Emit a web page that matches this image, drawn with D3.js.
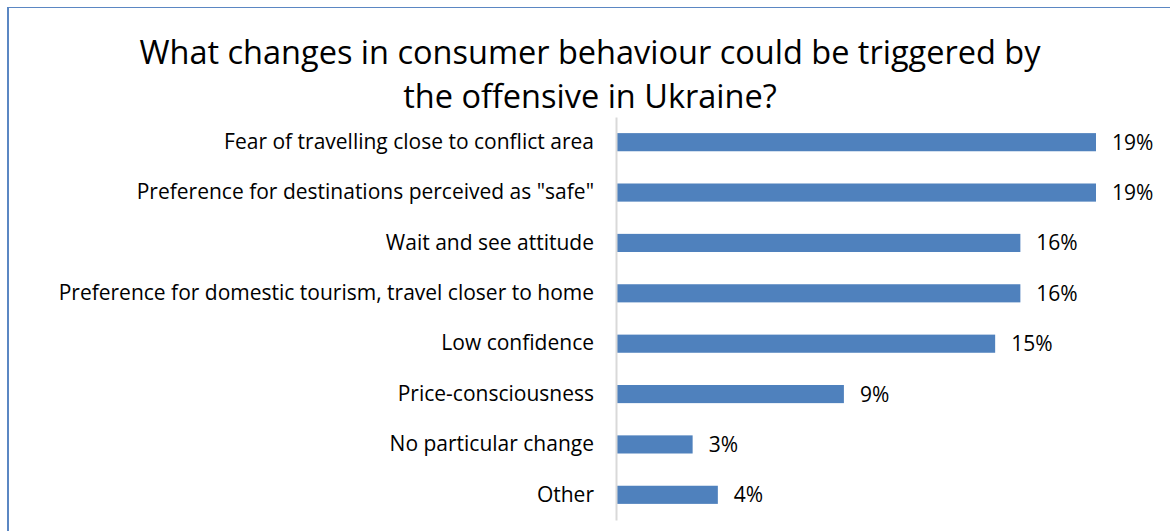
<!DOCTYPE html>
<html>
<head>
<meta charset="utf-8">
<script src="https://cdn.jsdelivr.net/npm/d3@7"></script>
<style>
  body { margin: 0; background: #fff; }
  text { font-family: "Open Sans", sans-serif; fill: #000; }
</style>
</head>
<body>
<div class="chart"></div>
<script>
var categories = [
  "Fear of travelling close to conflict area",
  "Preference for destinations perceived as \"safe\"",
  "Wait and see attitude",
  "Preference for domestic tourism, travel closer to home",
  "Low confidence",
  "Price-consciousness",
  "No particular change",
  "Other"
]
var values = [19, 19, 16, 16, 15, 9, 3, 4]
var titleLines = ["What changes in consumer behaviour could be triggered by", "the offensive in Ukraine?"]

var width = 1170, height = 531

var svg = d3.select(".chart").append("svg")
  .attr("width", width)
  .attr("height", height)

// frame (only left and top edges fall inside the picture)
svg.append("line")
  .attr("x1", 8).attr("x2", 8).attr("y1", 7).attr("y2", height)
  .attr("stroke", "#5b87c3").attr("stroke-width", 2)
svg.append("line")
  .attr("x1", 8).attr("x2", width).attr("y1", 7.5).attr("y2", 7.5)
  .attr("stroke", "#5b87c3").attr("stroke-width", 1)

// title
svg.append("text")
  .attr("x", 590)
  .attr("y", 64)
  .attr("text-anchor", "middle")
  .style("font-size", "32.5px")
  .selectAll("tspan")
  .data(titleLines).enter().append("tspan")
    .attr("x", 590)
    .attr("dy", function(d, i) { return i == 0 ? 0 : 44 })
    .text(function(d) { return d })

var x = d3.scaleLinear()
  .domain([0, 19])
  .range([617, 1096])

var y = d3.scaleBand()
  .domain(categories)
  .range([117, 520])
  .paddingInner(0.64)
  .paddingOuter(0.32)

// bars
svg.selectAll("rect.bar")
  .data(values).enter().append("rect")
    .attr("class", "bar")
    .attr("x", x(0))
    .attr("y", function(d, i) { return y(categories[i]) })
    .attr("width", function(d) { return x(d) - x(0) })
    .attr("height", y.bandwidth())
    .attr("fill", "#4f81bd")

// value labels
svg.selectAll("text.val")
  .data(values).enter().append("text")
    .attr("class", "val")
    .attr("x", function(d) { return x(d) + 16 })
    .attr("y", function(d, i) { return y(categories[i]) + y.bandwidth() / 2 })
    .attr("dy", "0.36em")
    .style("font-size", "21px")
    .text(function(d) { return d + "%" })

// category axis
var yAxis = d3.axisLeft(y).tickSize(0).tickPadding(23)
var gy = svg.append("g")
  .attr("class", "axis y")
  .attr("transform", "translate(" + x(0) + ",0)")
  .call(yAxis)
gy.select(".domain")
  .attr("stroke", "#d9d9d9")
  .attr("stroke-width", 2)
  .attr("transform", "translate(-1,0)")
gy.selectAll("text")
  .attr("fill", "#000")
  .style("font-family", "\"Open Sans\", sans-serif")
  .style("font-size", "21px")
</script>
</body>
</html>
